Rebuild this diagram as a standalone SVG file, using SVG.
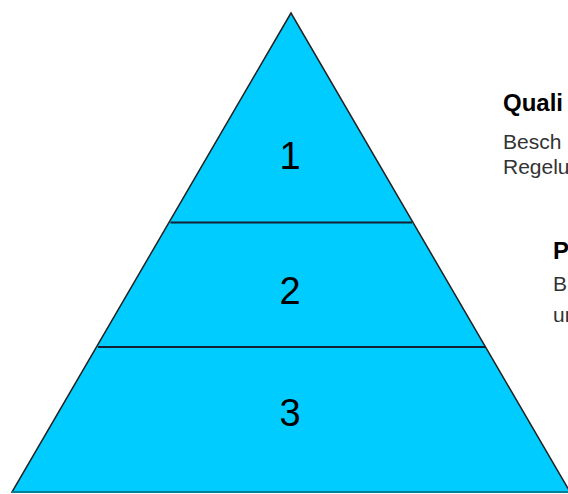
<svg xmlns="http://www.w3.org/2000/svg" width="568" height="494" viewBox="0 0 568 494">
<style>
.num{font-family:"Liberation Sans",Arial,sans-serif;font-size:38px;fill:#000;text-anchor:middle}
.h{font-family:"Liberation Sans",Arial,sans-serif;font-size:24px;font-weight:bold;fill:#000}
.t{font-family:"Liberation Sans",Arial,sans-serif;font-size:21px;fill:#333}
</style>
<rect width="568" height="494" fill="#fff"/>
<g id="pyramid">
<polygon points="291,13 12,492 570,492" fill="#00CCFF" stroke="#222" stroke-width="1.5"/>
<line x1="12" y1="492" x2="568" y2="492" stroke="#00809a" stroke-width="2"/>
</g>
<g id="connectors">
<line x1="170.5" y1="222.5" x2="412" y2="222.5" stroke="#123" stroke-width="2"/>
<line x1="98" y1="347" x2="486" y2="347" stroke="#123" stroke-width="2"/>
</g>
<g id="level1"><text class="num" x="290" y="169">1</text></g>
<g id="level2"><text class="num" x="290" y="304">2</text></g>
<g id="level3"><text class="num" x="290" y="426">3</text></g>
<g id="label1">
<text class="h" x="503" y="111">Quali</text>
<text class="t" x="503" y="149">Besch</text>
<text class="t" x="503" y="174">Regelu</text>
</g>
<g id="label2">
<text class="h" x="553" y="259">P</text>
<text class="t" x="553" y="291">B</text>
<text class="t" x="553" y="322">un</text>
</g>
</svg>
